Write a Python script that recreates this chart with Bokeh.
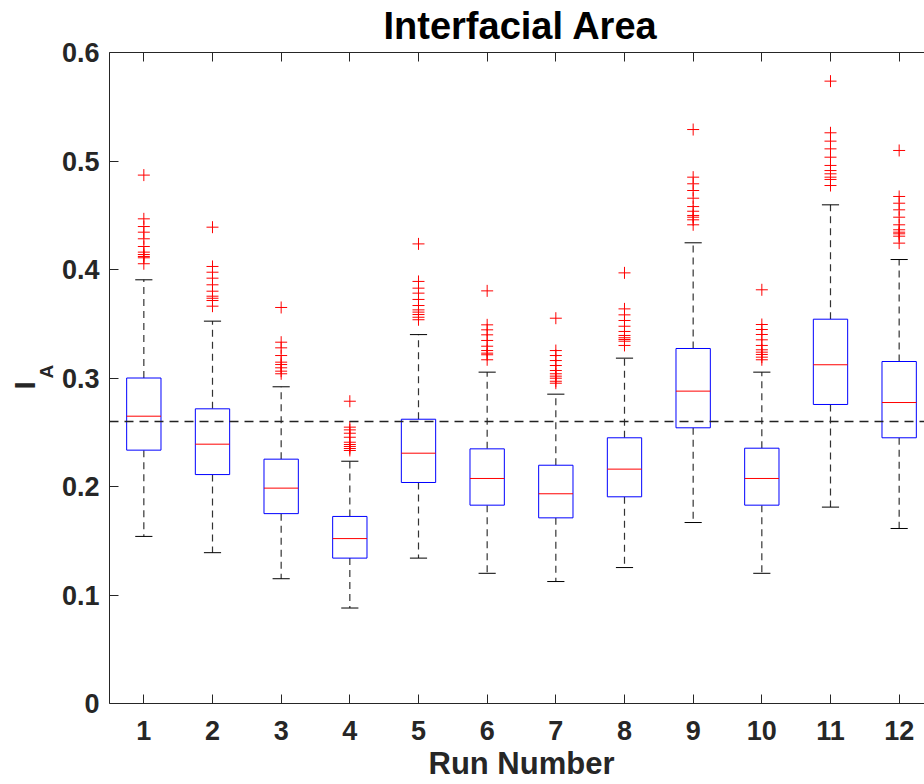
from bokeh.plotting import figure
from bokeh.models import (ColumnDataSource, Span, LinearAxis, FixedTicker, Title)
from bokeh.embed import file_html
from bokeh.resources import INLINE

# ---- data ----
run = [1, 2, 3, 4, 5, 6, 7, 8, 9, 10, 11, 12]
lower_whisker = [0.154, 0.139, 0.115, 0.088, 0.134, 0.120, 0.1124, 0.1253, 0.1668, 0.120, 0.181, 0.1613]
q1 = [0.2335, 0.211, 0.175, 0.134, 0.2037, 0.1828, 0.1711, 0.1905, 0.2541, 0.1828, 0.2756, 0.2449]
median = [0.2648, 0.239, 0.1985, 0.152, 0.2307, 0.2074, 0.1933, 0.216, 0.2879, 0.2074, 0.3122, 0.2774]
q3 = [0.300, 0.2716, 0.2252, 0.1724, 0.262, 0.2347, 0.2196, 0.2449, 0.3272, 0.2353, 0.3542, 0.3152]
upper_whisker = [0.3905, 0.3524, 0.2919, 0.2233, 0.340, 0.3054, 0.2851, 0.3183, 0.4246, 0.3054, 0.4596, 0.4092]
outliers = [
    [0.487, 0.4467, 0.4396, 0.4344, 0.4283, 0.4212, 0.416, 0.4138, 0.412, 0.4108, 0.4053],
    [0.439, 0.4028, 0.3975, 0.392, 0.3859, 0.380, 0.3754, 0.3735, 0.3714, 0.3662],
    [0.365, 0.333, 0.3278, 0.3207, 0.3146, 0.3124, 0.3094, 0.3063, 0.3039],
    [0.2786, 0.2547, 0.2522, 0.2491, 0.2454, 0.2408, 0.2387, 0.2369, 0.235, 0.2332],
    [0.4236, 0.389, 0.3828, 0.3782, 0.3724, 0.3668, 0.3628, 0.3607, 0.3585, 0.356, 0.3537],
    [0.3803, 0.349, 0.3444, 0.3398, 0.3346, 0.3293, 0.3253, 0.3229, 0.3214, 0.3168],
    [0.3551, 0.3253, 0.3207, 0.3161, 0.3115, 0.3069, 0.3039, 0.3017, 0.2998, 0.297, 0.2952],
    [0.3969, 0.3637, 0.3582, 0.353, 0.3477, 0.3429, 0.3392, 0.3371, 0.3355, 0.3339, 0.330],
    [0.529, 0.4851, 0.479, 0.4728, 0.4657, 0.458, 0.4537, 0.4498, 0.4482, 0.4458, 0.4412],
    [0.3813, 0.3493, 0.3447, 0.3401, 0.3352, 0.330, 0.326, 0.3238, 0.3217, 0.3192, 0.3168],
    [0.5736, 0.526, 0.5183, 0.5112, 0.5035, 0.4959, 0.4912, 0.4882, 0.4851, 0.483, 0.4774],
    [0.5097, 0.4673, 0.4611, 0.455, 0.4482, 0.4412, 0.4366, 0.4344, 0.4329, 0.4307, 0.4243],
]
reference_level = 0.26
y_ticks = [0, 0.1, 0.2, 0.3, 0.4, 0.5, 0.6]
title_text = "Interfacial Area"
x_label = "Run Number"
y_label_main = "I"
y_label_sub = "A"

FONT = "Liberation Sans"
AX = "#262626"
BOX_W = 0.5
CAP_W = 0.25

src = ColumnDataSource(dict(
    run=run, lw=lower_whisker, q1=q1, med=median, q3=q3, uw=upper_whisker,
    cap_l=[r - CAP_W / 2 for r in run], cap_r=[r + CAP_W / 2 for r in run],
    box_l=[r - BOX_W / 2 for r in run], box_r=[r + BOX_W / 2 for r in run],
))
out_x, out_y = [], []
for r, vals in zip(run, outliers):
    for v in vals:
        out_x.append(r)
        out_y.append(v)
out_src = ColumnDataSource(dict(x=out_x, y=out_y))

p = figure(width=924, height=784, x_range=(0.5, 12.369), y_range=(0, 0.6),
           output_backend="svg", toolbar_location=None,
           min_border_left=109, min_border_right=0, min_border_top=52, min_border_bottom=81,
           background_fill_color="white", border_fill_color="white")
p.outline_line_color = None
p.grid.visible = False

# title
p.title.text = title_text
p.title.align = "left"
p.title.offset = 274
p.title.vertical_align = "top"
p.title.text_font = FONT
p.title.text_font_style = "bold"
p.title.text_font_size = "38px"
p.title.text_color = "black"
p.title.standoff = 8

# axes
p.xaxis.ticker = FixedTicker(ticks=run)
p.yaxis.ticker = FixedTicker(ticks=y_ticks)
p.yaxis.major_label_overrides = {0: "0"}
for ax in (p.xaxis[0], p.yaxis[0]):
    ax.axis_line_color = AX
    ax.major_tick_line_color = AX
    ax.major_tick_in = 9
    ax.major_tick_out = 0
    ax.minor_tick_line_color = None
    ax.major_label_text_font = FONT
    ax.major_label_text_font_style = "bold"
    ax.major_label_text_font_size = "27px"
    ax.major_label_text_color = AX
p.xaxis.major_label_standoff = 17
p.yaxis.major_label_standoff = 10

xlab = Title(text=x_label, align="left", offset=319, vertical_align="bottom",
             text_font=FONT, text_font_style="bold", text_font_size="31px",
             text_color=AX, standoff=2)
p.add_layout(xlab, "below")

top = LinearAxis(ticker=FixedTicker(ticks=run))
top.axis_line_color = AX
top.major_tick_line_color = AX
top.major_tick_in = 9
top.major_tick_out = 0
top.minor_tick_line_color = None
top.major_label_text_font_size = "1px"
top.major_label_text_color = None
top.major_label_standoff = 0
p.add_layout(top, "above")

# y label "I" with subscript "A" as two titles in the left panel
sub = Title(text=y_label_sub, align="left", offset=325, text_font=FONT, text_font_style="bold",
            text_font_size="19px", text_color=AX, standoff=4)
main = Title(text=y_label_main, align="left", offset=314, text_font=FONT, text_font_style="bold",
             text_font_size="30px", text_color=AX, standoff=-18)
p.add_layout(sub, "left")
p.add_layout(main, "left")

# reference line
p.add_layout(Span(location=reference_level, dimension="width", line_color="#222222",
                  line_width=1.5, line_dash="9 6"))

# whiskers
p.segment(x0="run", y0="q3", x1="run", y1="uw", source=src, line_color="#333333",
          line_width=1.2, line_dash="7 5")
p.segment(x0="run", y0="q1", x1="run", y1="lw", source=src, line_color="#333333",
          line_width=1.2, line_dash="7 5")
p.segment(x0="cap_l", y0="uw", x1="cap_r", y1="uw", source=src, line_color="black", line_width=1)
p.segment(x0="cap_l", y0="lw", x1="cap_r", y1="lw", source=src, line_color="black", line_width=1)

# boxes
p.quad(left="box_l", right="box_r", bottom="q1", top="q3", source=src,
       fill_color="white", line_color="#0000ff", line_width=1)
p.segment(x0="box_l", y0="med", x1="box_r", y1="med", source=src, line_color="#ff0000", line_width=1)

# outliers
p.scatter(x="x", y="y", source=out_src, marker="cross", size=12, line_color="#ff0000", line_width=1)

open("out.html", "w").write(file_html(p, INLINE))
